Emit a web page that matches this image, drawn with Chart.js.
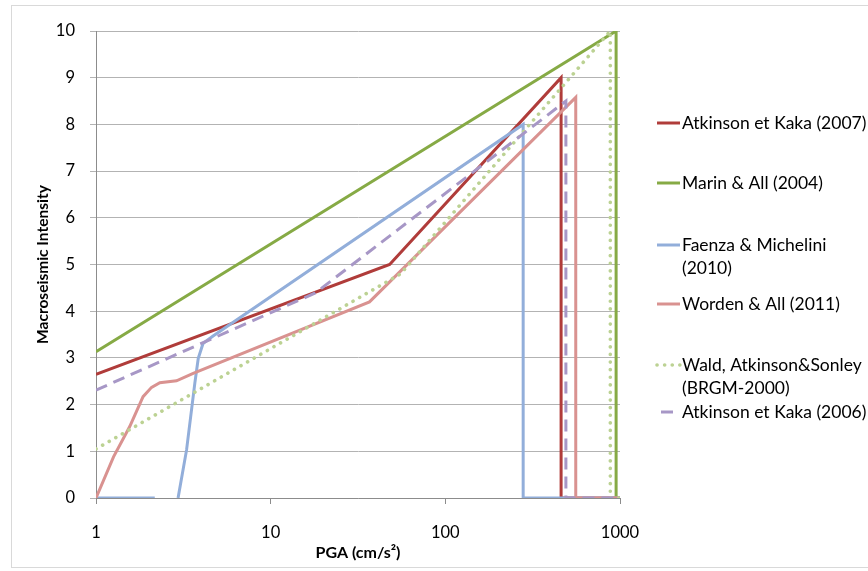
<!DOCTYPE html>
<html>
<head>
<meta charset="utf-8">
<script src="https://cdn.jsdelivr.net/npm/chart.js@4/dist/chart.umd.min.js"></script>
<style>
  html,body{margin:0;padding:0;background:#fff;overflow:hidden;}
  #wrap{position:relative;width:868px;height:571px;}
</style>
</head>
<body>
<div id="wrap"><canvas id="c" width="868" height="571"></canvas></div>
<script>
// series names, in Excel series order (last one drawn on top)
var names=['Atkinson et Kaka (2007)','Marin & All (2004)','Faenza & Michelini\n(2010)','Worden & All (2011)','Wald, Atkinson&Sonley\n(BRGM-2000)','Atkinson et Kaka (2006)'];

// PGA (cm/s2) and intensity
var atk07X=[1,48,460,460,1000];
var atk07Y=[2.65,5.0,9.0,0,0];
var marinX=[1,950,950,1000];
var marinY=[3.13,10,0,0];
var faenzaX=[1,2.17,2.5,2.95,3.3,3.68,3.85,4.1,4.68,279,279,1000];
var faenzaY=[0,0,null,0,1.03,2.46,2.99,3.31,3.47,8.0,0,0];
var wordenX=[1,1.26,1.56,1.86,2.08,2.32,2.89,3.6,36.8,558,558,1000];
var wordenY=[0,0.88,1.53,2.17,2.37,2.47,2.51,2.67,4.2,8.58,0,0];
var waldX=[1,55.5,880,880,1000];
var waldY=[1.05,4.8,10,0,0];
var atk06X=[1,18,490,490,1000];
var atk06Y=[2.31,4.39,8.5,0,0];

var xTicks=[1,10,100,1000];

function pts(xs,ys){return xs.map(function(x,i){return {x:x,y:ys[i]};});}

var styles=[
  {color:'#B03C3A',dash:[],cap:'butt',w:3},
  {color:'#86AA45',dash:[],cap:'butt',w:3},
  {color:'#92AEDA',dash:[],cap:'butt',w:3},
  {color:'#D99290',dash:[],cap:'butt',w:3},
  {color:'#BCD293',dash:[0.1,7.5],cap:'round',w:3.6},
  {color:'#A797C6',dash:[12,7],cap:'butt',w:3}
];
var series=[pts(atk07X,atk07Y),pts(marinX,marinY),pts(faenzaX,faenzaY),pts(wordenX,wordenY),pts(waldX,waldY),pts(atk06X,atk06Y)];

var FONT="Lato, 'Open Sans', sans-serif";
var legendY=[[123],[183],[245,268],[304],[365,388],[412]];

var frameAndLegend={
  id:'frameAndLegend',
  beforeDraw:function(chart){
    var c=chart.ctx;
    c.save();
    c.strokeStyle='#D9D9D9';c.lineWidth=1;
    c.strokeRect(11.5,5.5,900,562);
    c.restore();
  },
  afterDraw:function(chart){
    var c=chart.ctx;
    c.save();
    c.font='17.5px '+FONT;
    c.fillStyle='#000';
    c.textBaseline='middle';
    names.forEach(function(n,i){
      var st=styles[i],ys=legendY[i],lines=n.split('\n');
      c.beginPath();
      c.strokeStyle=st.color;c.lineWidth=st.w;c.lineCap=st.cap;
      c.setLineDash(st.dash);
      c.lineDashOffset=st.dash.length&&st.cap==='butt'?-4:0;
      c.moveTo(657,ys[0]);c.lineTo(680,ys[0]);c.stroke();
      c.setLineDash([]);
      lines.forEach(function(t,j){c.fillText(t,682,ys[j]);});
    });
    c.restore();
  }
};

new Chart(document.getElementById('c'),{
  type:'line',
  data:{datasets:series.map(function(d,i){
    var st=styles[i];
    return {label:names[i].replace('\n',' '),data:d,borderColor:st.color,backgroundColor:st.color,
      borderWidth:st.w,borderDash:st.dash,borderCapStyle:st.cap,pointRadius:0,tension:0,
      spanGaps:false,fill:false,order:series.length-1-i};
  })},
  options:{
    responsive:false,animation:false,
    layout:{padding:{left:0,right:248,top:31,bottom:0}},
    plugins:{legend:{display:false},tooltip:{enabled:false}},
    scales:{
      x:{type:'logarithmic',min:1,max:1000,
        afterBuildTicks:function(s){s.ticks=xTicks.map(function(v){return {value:v};});},
        afterFit:function(s){s.height=73;},
        ticks:{color:'#000',font:{family:FONT,size:16.5},padding:19,maxRotation:0,
          callback:function(v){return String(v);}},
        grid:{drawOnChartArea:false,drawTicks:true,tickLength:6,color:'#8C8C8C'},
        border:{color:'#8C8C8C'},
        title:{display:true,text:'PGA (cm/s²)',color:'#000',font:{family:FONT,size:16,weight:'bold'},padding:{top:0,bottom:9}}
      },
      y:{min:0,max:10,
        afterFit:function(s){s.width=96;},
        ticks:{stepSize:1,color:'#000',font:{family:FONT,size:16.5},padding:15},
        grid:{color:'#B3B3B3',tickLength:6,drawTicks:true},
        border:{color:'#8C8C8C'},
        title:{display:true,text:'Macroseismic Intensity',color:'#000',font:{family:FONT,size:15.5,weight:'bold'},padding:{top:34,bottom:0}}
      }
    }
  },
  plugins:[frameAndLegend]
});
</script>
</body>
</html>
